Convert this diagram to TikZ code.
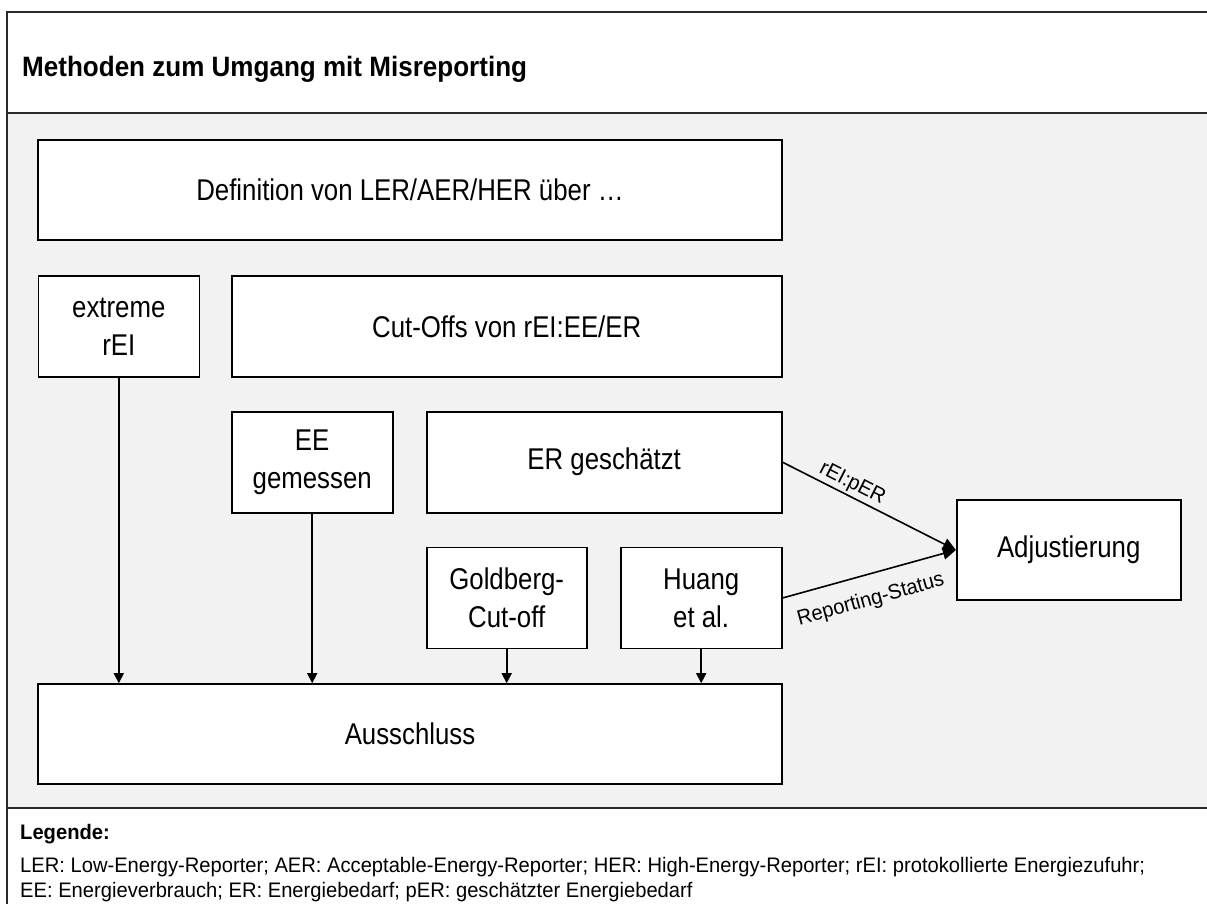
\documentclass[tikz,border=0pt]{standalone}
\usepackage{fontspec}
\setmainfont{Liberation Sans}[FakeStretch=0.93]
\newfontfamily\boxfont{Liberation Sans}[FakeStretch=0.86]
\newfontfamily\legfont{Liberation Sans}[FakeStretch=0.96]
\usetikzlibrary{arrows.meta}
\definecolor{bggray}{HTML}{F2F2F2}
\definecolor{framegray}{HTML}{2A2A2A}
\begin{document}
\begin{tikzpicture}[x=1pt,y=-1pt,
  box/.style={draw=black,fill=white,line width=1.6pt,inner sep=0pt,align=center,
    font=\boxfont\fontsize{30}{38}\selectfont},
  arr/.style={line width=1.6pt,-{Triangle[length=10pt,width=10pt]}},
  darr/.style={line width=1.6pt,-{Triangle[length=13pt,width=12pt]}},
  lab/.style={font=\legfont\fontsize{21}{24}\selectfont,sloped,inner sep=2pt},
  legtxt/.style={anchor=base west,font=\legfont\fontsize{21}{24}\selectfont,inner sep=0pt}]
\useasboundingbox (0,0) rectangle (1207,904);
% background panels
\fill[white] (0,0) rectangle (1207,904);
\fill[bggray] (6.5,113) rectangle (1207,808);
\draw[framegray,line width=2pt] (1207,12) -- (6.5,12) -- (6.5,904);
\draw[framegray,line width=2pt] (6.5,113) -- (1207,113);
\draw[framegray,line width=2pt] (6.5,808) -- (1207,808);
% title
\node[anchor=base west,font=\bfseries\fontsize{28}{31}\selectfont,inner sep=0pt] (title) at (22,77) {Methoden zum Umgang mit Misreporting};
% boxes
\node[box,minimum width=744pt,minimum height=100pt] (def) at (410,190) {Definition von LER/AER/HER über …};
\node[box,minimum width=161pt,minimum height=101pt] (ext) at (118.8,326.5) {extreme\\rEI};
\node[box,minimum width=550pt,minimum height=101pt] (cut) at (506.7,326.5) {Cut-Offs von rEI:EE/ER};
\node[box,minimum width=161pt,minimum height=101pt] (ee) at (312.2,462.2) {EE\\gemessen};
\node[box,minimum width=355pt,minimum height=101pt] (er) at (604.2,462.2) {ER geschätzt};
\node[box,minimum width=160pt,minimum height=101pt] (gold) at (506.7,598) {Goldberg-\\Cut-off};
\node[box,minimum width=161pt,minimum height=101pt] (huang) at (701.2,598) {Huang\\et al.};
\node[box,minimum width=744pt,minimum height=100pt] (aus) at (410,734) {Ausschluss};
\node[box,minimum width=224pt,minimum height=100pt] (adj) at (1068.7,550) {Adjustierung};
% arrows
\draw[arr] (ext.south) -- (ext.south |- aus.north);
\draw[arr] (ee.south) -- (ee.south |- aus.north);
\draw[arr] (gold.south) -- (gold.south |- aus.north);
\draw[arr] (huang.south) -- (huang.south |- aus.north);
\draw[darr] (er.east) -- node[lab,above,pos=0.37] {rEI:pER} (adj.west);
\draw[darr] (huang.east) -- node[lab,below,pos=0.47,yshift=-13pt] {Reporting-Status} (adj.west);
% legend
\node[legtxt,font=\bfseries\legfont\fontsize{21}{24}\selectfont] (leg) at (20,839) {Legende:};
\node[legtxt] (leg1) at (20,872) {LER: Low-Energy-Reporter; AER: Acceptable-Energy-Reporter; HER: High-Energy-Reporter; rEI: protokollierte Energiezufuhr;};
\node[legtxt] (leg2) at (20,897) {EE: Energieverbrauch; ER: Energiebedarf; pER: geschätzter Energiebedarf};
\end{tikzpicture}
\end{document}
